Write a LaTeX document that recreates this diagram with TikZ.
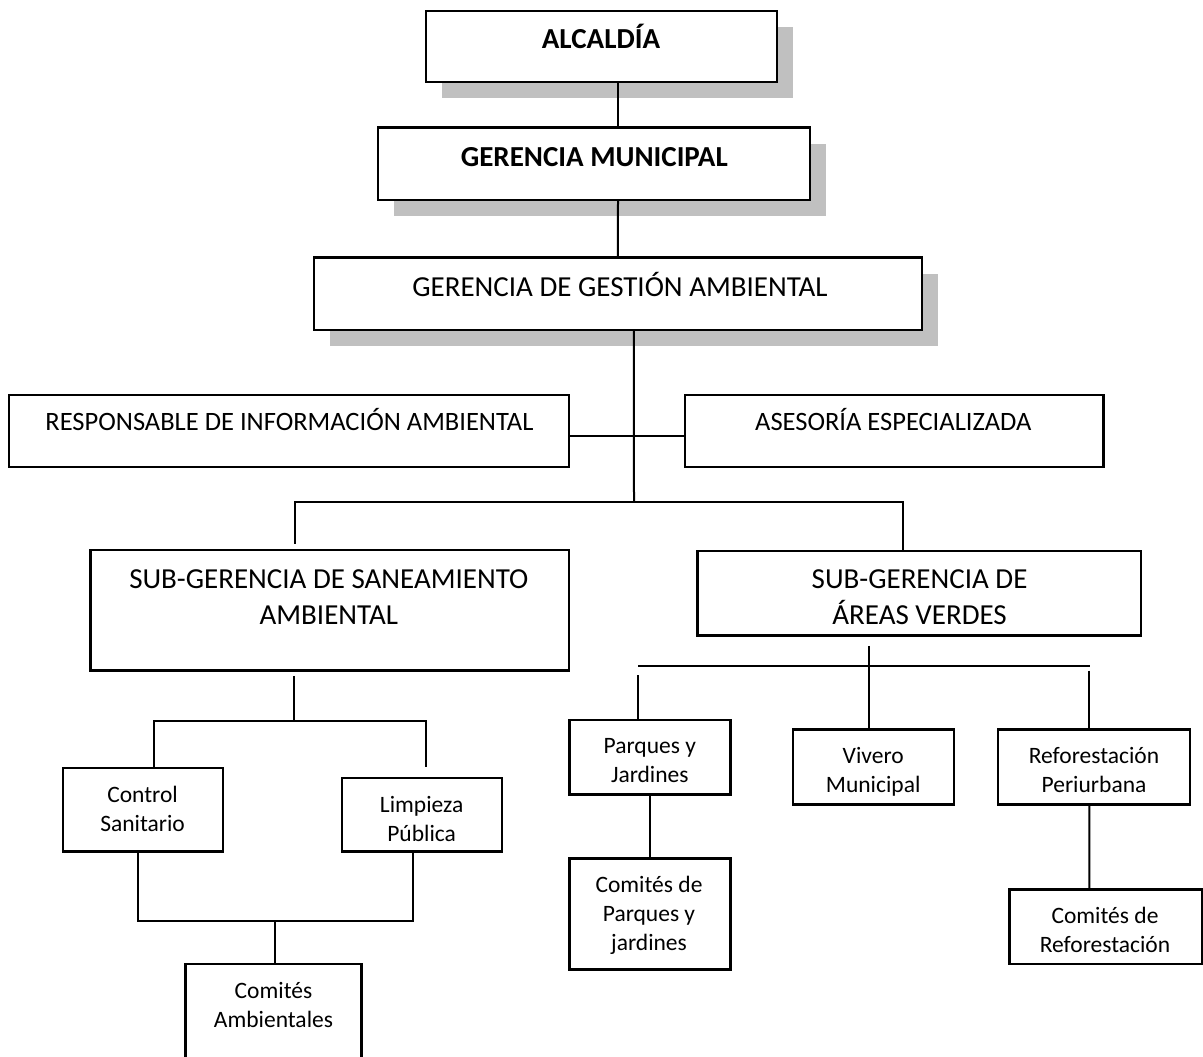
\documentclass[tikz,border=0pt]{standalone}
\usepackage{fontspec}
\setmainfont{Carlito}
\usetikzlibrary{shadows}
\definecolor{grissombra}{RGB}{192,192,192}

\begin{document}
\begin{tikzpicture}[x=1pt, y=-1pt,
    caja/.style={draw, line width=2.5, fill=white, inner sep=0},
    sombreado/.style={drop shadow={shadow xshift=16pt, shadow yshift=-16pt, fill=grissombra, opacity=1}},
    linea/.style={line width=2},
    grande/.style={font=\fontsize{29}{36}\selectfont, align=center, anchor=base, inner sep=0},
    negrita/.style={grande, font=\fontsize{29}{36}\selectfont\bfseries},
    mediano/.style={font=\fontsize{26.5}{32}\selectfont, anchor=base, inner sep=0},
    chico/.style={font=\fontsize{23.5}{29}\selectfont, align=center, anchor=base, inner sep=0}]
    \useasboundingbox (0, 0) rectangle (1203, 1057) ;
    \clip (0, 0) rectangle (1203, 1057) ;

    \node[caja, sombreado, minimum width=351pt, minimum height=71pt] (alcaldia) at (601.5, 46.5) {} ;
    \node[caja, sombreado, minimum width=432pt, minimum height=72.3pt] (gerencia) at (594, 163.8) {} ;
    \node[caja, sombreado, minimum width=608.3pt, minimum height=72.3pt] (gestion) at (617.9, 293.8) {} ;
    \node[caja, minimum width=560pt, minimum height=72pt] (responsable) at (289, 431) {} ;
    \node[caja, minimum width=418.6pt, minimum height=72pt] (asesoria) at (894.3, 431) {} ;
    \node[caja, minimum width=478.4pt, minimum height=120.7pt] (saneamiento) at (329.8, 610.3) {} ;
    \node[caja, minimum width=443.4pt, minimum height=84.7pt] (areas) at (919.3, 593.3) {} ;
    \node[caja, minimum width=160.2pt, minimum height=83.3pt] (control) at (142.9, 809.7) {} ;
    \node[caja, minimum width=160.3pt, minimum height=73.3pt] (limpieza) at (421.9, 814.7) {} ;
    \node[caja, minimum width=176pt, minimum height=116pt] (comitesamb) at (273.6, 1022) {} ;
    \node[caja, minimum width=160.7pt, minimum height=74.7pt] (parques) at (650, 757.3) {} ;
    \node[caja, minimum width=160.8pt, minimum height=75pt] (vivero) at (873.6, 766.8) {} ;
    \node[caja, minimum width=192.3pt, minimum height=75pt] (reforestacion) at (1093.9, 766.8) {} ;
    \node[caja, minimum width=160.7pt, minimum height=110.6pt] (comitespar) at (650, 914) {} ;
    \node[caja, minimum width=192.4pt, minimum height=74.7pt] (comitesref) at (1105.6, 926.7) {} ;

    \node[negrita] (alcaldia-t) at (601, 49) {ALCALDÍA} ;
    \node[negrita] (gerencia-t) at (594.3, 166.7) {GERENCIA MUNICIPAL} ;
    \node[grande] (gestion-t) at (620, 296.7) {GERENCIA DE GESTIÓN AMBIENTAL} ;
    \node[mediano] (responsable-t) at (289.4, 430.7) {RESPONSABLE DE INFORMACIÓN AMBIENTAL} ;
    \node[mediano] (asesoria-t) at (893.3, 430.7) {ASESORÍA ESPECIALIZADA} ;
    \node[grande] (saneamiento-t) at (328.8, 624.3) {SUB-GERENCIA DE SANEAMIENTO\\AMBIENTAL} ;
    \node[grande] (areas-t) at (919.6, 624.3) {SUB-GERENCIA DE\\ÁREAS VERDES} ;
    \node[chico] (control-t) at (142.6, 831.7) {Control\\Sanitario} ;
    \node[chico] (limpieza-t) at (421.6, 841.7) {Limpieza\\Pública} ;
    \node[chico] (comitesamb-t) at (273.5, 1027.3) {Comités\\Ambientales} ;
    \node[chico] (parques-t) at (649.8, 782.7) {Parques y\\Jardines} ;
    \node[chico] (vivero-t) at (873.2, 792.7) {Vivero\\Municipal} ;
    \node[chico] (reforestacion-t) at (1094, 792.7) {Reforestación\\Periurbana} ;
    \node[chico] (comitespar-t) at (649, 950) {Comités de\\Parques y\\jardines} ;
    \node[chico] (comitesref-t) at (1105, 952.3) {Comités de\\Reforestación} ;

    \coordinate (tronco) at (634, 502) ;
    \coordinate (ramasa) at (294, 720.7) ;
    \coordinate (ramacs) at (274.8, 921) ;
    \coordinate (ramaav1) at (638.3, 666) ;
    \coordinate (ramaav2) at (1089.6, 666) ;
    \coordinate (bajaparques) at (638.3, 675) ;
    \coordinate (bajarefo) at (1089.4, 670.7) ;

    \draw[linea] ([xshift=16.5pt]alcaldia.south) -- ([xshift=24pt]gerencia.north) ;
    \draw[linea] ([xshift=24pt]gerencia.south) -- (gestion.north) ;
    \draw[linea] ([xshift=16pt]gestion.south) -- (tronco) ;
    \draw[linea] ([yshift=-5pt]responsable.east) -- ([yshift=-5pt]asesoria.west) ;
    \draw[linea] (tronco) -| ([xshift=-34.8pt, yshift=4.3pt]saneamiento.north) ;
    \draw[linea] (tronco) -| ([xshift=-16.3pt]areas.north) ;
    \draw[linea] ([xshift=-35.8pt, yshift=-4pt]saneamiento.south) -- (ramasa) ;
    \draw[linea] (ramasa) -| ([xshift=11pt]control.north) ;
    \draw[linea] (ramasa) -| ([xshift=4pt, yshift=10pt]limpieza.north) ;
    \draw[linea] ([xshift=-5pt]control.south) |- (ramacs) ;
    \draw[linea] ([xshift=-9pt]limpieza.south) |- (ramacs) ;
    \draw[linea] (ramacs) -- ([xshift=1.2pt]comitesamb.north) ;
    \draw[linea] ([xshift=-50.3pt, yshift=-9pt]areas.south) -- ([xshift=-4.6pt]vivero.north) ;
    \draw[linea] (ramaav1) -- (ramaav2) ;
    \draw[linea] (bajaparques) -- ([xshift=-11.7pt]parques.north) ;
    \draw[linea] (bajarefo) -- ([xshift=-4.5pt]reforestacion.north) ;
    \draw[linea] (parques.south) -- (comitespar.north) ;
    \draw[linea] ([xshift=-4.5pt]reforestacion.south) -- ([xshift=-16.2pt]comitesref.north) ;
\end{tikzpicture}
\end{document}
